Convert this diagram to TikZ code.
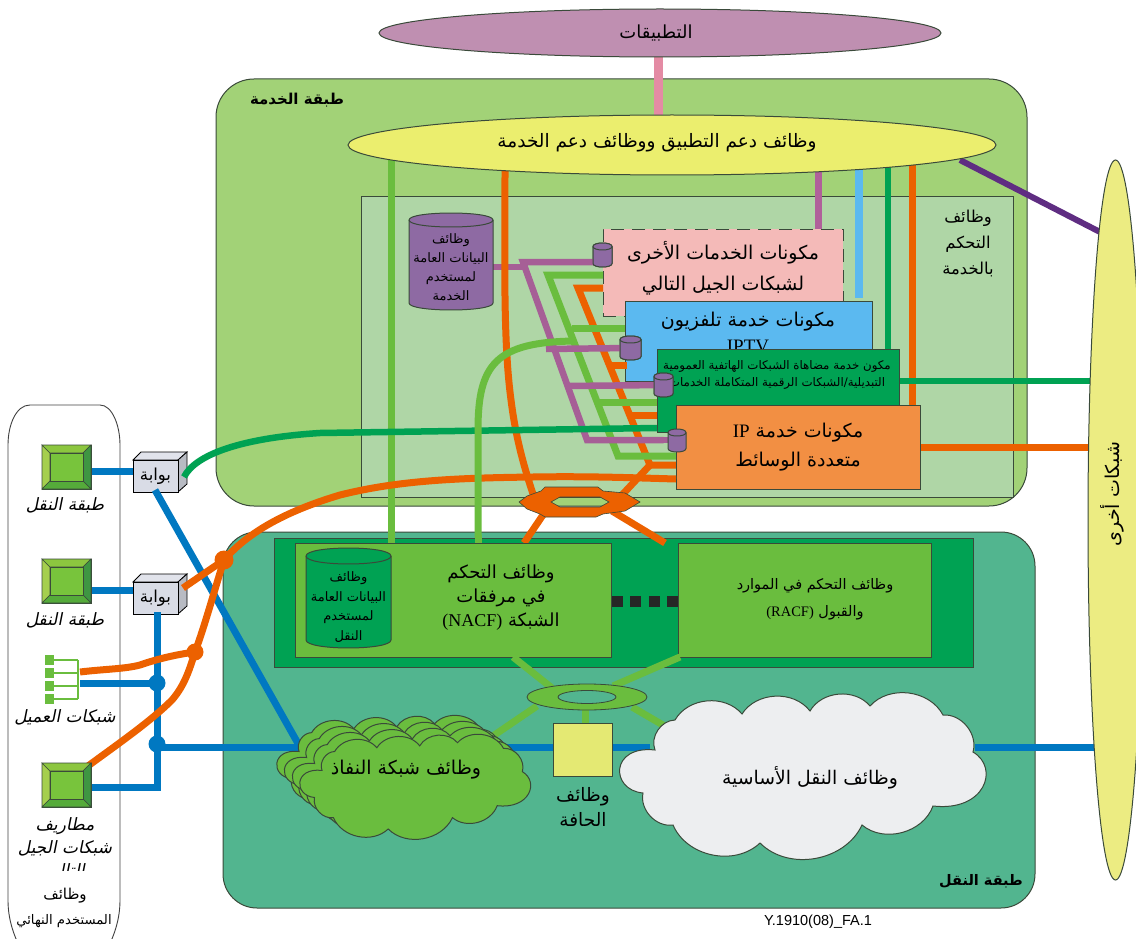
\documentclass[tikz,border=0pt]{standalone}
\usepackage{fontspec}
\usetikzlibrary{shapes.geometric,fit}
\TeXXeTstate=1
\setmainfont{Liberation Serif}
\newfontfamily\arabicfont[Script=Arabic]{DejaVu Sans}
\newfontfamily\arabicslant[Script=Arabic,FakeSlant=0.2]{DejaVu Sans}
\newfontfamily\latinfont{Liberation Serif}
\newfontfamily\codefont{Liberation Sans}
\newcommand\ar[1]{\beginR #1\endR}
\newcommand\lat[1]{\beginL{\latinfont #1}\endL}
\definecolor{appc}{HTML}{BF8FB1}
\definecolor{pinkl}{HTML}{E48BA4}
\definecolor{svc}{HTML}{A2D277}
\definecolor{ctl}{HTML}{AFD6A6}
\definecolor{yel}{HTML}{EBEE6E}
\definecolor{yelb}{HTML}{E4E973}
\definecolor{othr}{HTML}{ECEC82}
\definecolor{trn}{HTML}{52B58F}
\definecolor{dgr}{HTML}{00A253}
\definecolor{lgr}{HTML}{6ABD3E}
\definecolor{org}{HTML}{EC6100}
\definecolor{blu}{HTML}{0078C1}
\definecolor{lbl}{HTML}{5BB9F0}
\definecolor{mau}{HTML}{A65F96}
\definecolor{mauv}{HTML}{B0609A}
\definecolor{pur}{HTML}{8E6AA3}
\definecolor{dpur}{HTML}{5F2D82}
\definecolor{pnk}{HTML}{F4BAB8}
\definecolor{oran}{HTML}{F28F43}
\definecolor{gate}{HTML}{D9DCE6}
\definecolor{cor}{HTML}{EDEEF0}
\definecolor{edgec}{HTML}{3A4A3A}
\definecolor{bevL}{HTML}{A5CF4E}
\definecolor{bevT}{HTML}{8CC63F}
\definecolor{bevR}{HTML}{3E9642}
\definecolor{bevB}{HTML}{55AB3A}
\definecolor{bevC}{HTML}{78C43C}
\tikzset{
  frame/.style={draw=edgec,line width=1pt},
  rbox/.style={frame,inner sep=0pt,align=center},
  lab/.style 2 args={inner sep=0pt,align=center,font=\arabicfont\fontsize{#1}{#2}\selectfont},
  side/.style={inner sep=0pt,align=center,font=\arabicslant\fontsize{17}{23}\selectfont},
  wire/.style={line width=#1,line join=miter},
  lg/.style={wire=7pt,lgr},
  og/.style={wire=7pt,org},
  bl/.style={wire=7pt,blu},
  mv/.style={wire=6.5pt,mau},
  dg/.style={wire=6.5pt,dgr},
  dot/.style={circle,inner sep=0pt,minimum size=#1},
  bevtop/.style={fill=#1,draw=edgec,line width=.6pt},
  puffline/.style={draw=edgec,line width=1pt,fill=#1,bend left=55},
}
\newcommand\termicon[3]{% name, x, y (top-left); 49 x 44
  \node[inner sep=0pt,minimum width=49pt,minimum height=44pt,draw=edgec,line width=.8pt,fill=bevC] (#1) at (#2+24.5,#3+22) {};
  \begin{scope}[shift={(#2,#3)}]
    \path[bevtop=bevL] (0,0)--(8,8)--(8,36)--(0,44)--cycle;
    \path[bevtop=bevT] (0,0)--(49,0)--(41,8)--(8,8)--cycle;
    \path[bevtop=bevR] (49,0)--(49,44)--(41,36)--(41,8)--cycle;
    \path[bevtop=bevB] (0,44)--(8,36)--(41,36)--(49,44)--cycle;
    \path[bevtop=bevC] (8,8) rectangle (41,36);
  \end{scope}}
\newcommand\gateway[3]{% name, x, y (front top-left)
  \begin{scope}[shift={(#2,#3)}]
    \path[fill=gate!80!white,draw=black,line width=.8pt] (0,0)--(8,-8)--(54,-8)--(45,0)--cycle;
    \path[fill=gate!85!black,draw=black,line width=.8pt] (45,0)--(54,-8)--(54,24)--(45,32)--cycle;
  \end{scope}
  \node[fill=gate,draw=black,line width=.8pt,inner sep=0pt,minimum width=45pt,minimum height=32pt,
    font=\arabicfont\fontsize{16.5}{18}\selectfont] (#1) at (#2+22.5,#3+16) {\ar{بوابة}};}
% name, x0, y0, x1, y1, fill, ry
\newcommand\drum[7]{%
  \path[draw=edgec,line width=1pt,fill=#6] (#2,#3+#7) .. controls (#2,#3-0.33*#7) and (#4,#3-0.33*#7) .. (#4,#3+#7)
    -- (#4,#5-#7) .. controls (#4,#5+0.33*#7) and (#2,#5+0.33*#7) .. (#2,#5-#7) -- cycle;
  \path[draw=edgec,line width=1pt] (#2,#3+#7) .. controls (#2,#3+2.33*#7) and (#4,#3+2.33*#7) .. (#4,#3+#7);
  \coordinate (#1) at ({(#2+#4)/2},{(#3+#5)/2});}
% style colour, dx, dy, scale
\newcommand\puffcloud[4]{%
  \path[puffline=#1,shift={(#2,#3)},scale=#4]
    (655,750) to (675,720) to (742,714) to (810,711) to (870,706) to (943,715) to (973,752)
    .. controls (1000,768) and (985,812) .. (933,806)
    to (862,825) to (760,843) to (673,825) to (643,793)
    .. controls (610,790) and (610,745) .. (655,750) -- cycle;}
\begin{document}
\begin{tikzpicture}[x=1pt,y=-1pt]
\useasboundingbox (0,0) rectangle (1136,939);
\begin{scope}
\clip (0,0) rectangle (1136,939);
% user box
\draw[draw=black!75,line width=.9pt] (30,405) -- (100,405) .. controls (112,405) and (120,425) .. (120,445)
  -- (120,900) .. controls (120,920) and (114,935) .. (108,948) -- (20,948) .. controls (14,935) and (8,920) .. (8,900)
  -- (8,445) .. controls (8,425) and (16,405) .. (30,405) -- cycle;
% strata
\node[frame,fill=svc,rounded corners=38pt,inner sep=0pt,fit={(216,79)(1027,506)}] (svcS) {};
\node[frame,fill=trn,rounded corners=34pt,inner sep=0pt,fit={(223,532)(1035,908)}] (trnS) {};
\node[frame,fill=ctl,inner sep=0pt,fit={(361,197)(1013,497)}] (ctlR) {};

\coordinate (sup) at (672,145);
\coordinate (gring) at (587,697);
\coordinate (cA) at (224,560);
\coordinate (cB) at (195,652);

% connectors top
\draw[wire=9pt,pinkl] (658,50) -- (658,120);
\draw[lg] (391,160) -- (391,543);
\draw[wire=8pt,lbl] (859,165) -- (859,298);
\draw[wire=7pt,mauv] (818,170) -- (818,232);
\draw[dg] (888,165) -- (888,352);
\draw[og] (912,165) -- (912,408);
\draw[wire=6pt,dpur] (960,160) -- (1100,232);
% right side
\draw[dg] (899,381) -- (1095,381);
\draw[og] (920,447) -- (1095,447);

% boxes
\node[draw=edgec,dash pattern=on 13pt off 8pt,line width=1pt,fill=pnk,inner sep=0pt,align=center,fit={(603,229)(843,316)}] (pinkB) {};
\node[lab={19}{31}] at (723,268) {\ar{مكونات الخدمات الأخرى}\\\ar{لشبكات الجيل التالي}};

% mauve stub under orange vertical
\draw[mv] (493,267) -- (526,267);
% orange vertical into ring
\draw[og] (505,170) .. controls (505,260) and (503,340) .. (511,400) .. controls (516,440) and (525,470) .. (534,497);
\node[rbox,fill=lbl,fit={(625,301)(872,381)}] (iptv) {};
\node[lab={19}{26}] at (748,332) {\ar{مكونات خدمة تلفزيون}\\\lat{IPTV}};
\node[rbox,fill=dgr,fit={(657,349)(899,432)}] (pstn) {};
\node[lab={11.8}{17}] at (777,375) {\ar{مكون خدمة مضاهاة الشبكات الهاتفية العمومية}\\\ar{التبديلية/الشبكات الرقمية المتكاملة الخدمات}};

% orange bus
\coordinate (oa) at (578,288);
\coordinate (ob) at (650,465);
\draw[og] (603,288) -- (oa) -- (ob) -- (676,465);
\draw[og] (608,365) -- (627,365);
\draw[og] (628,415) -- (657,415);
\draw[og] (ob) -- (622,495);
% green bus
\coordinate (ga) at (548,275);
\coordinate (gb) at (618,456);
\draw[lg] (603,275) -- (ga) -- (gb) -- (676,456);
\draw[lg] (572,328) -- (625,328);
\draw[lg] (600,402) -- (657,402);
% mauve bus
\coordinate (ma) at (523,262);
\coordinate (mb) at (587,440);
\drum{c1}{593}{243}{612}{267}{pur}{3.5}
\drum{c2}{620}{336}{641}{360}{pur}{3.5}
\drum{c3}{654}{373}{673}{397}{pur}{3.5}
\draw[mv] (c1 |- ma) -- (ma) -- (mb) -- (c3 |- mb);
\draw[mv] (546,349) -- (c2);
\draw[mv] (566,386) -- (c3);
\drum{c1b}{593}{243}{612}{267}{pur}{3.5}
\drum{c2b}{620}{336}{641}{360}{pur}{3.5}
\drum{c3b}{654}{373}{673}{397}{pur}{3.5}

% orange box
\node[rbox,fill=oran,fit={(676,405)(920,489)}] (ims) {};
\draw[mv] (650,440) -- (670,440);
\drum{c4}{668}{429}{686}{452}{pur}{3.5}
\node[lab={19}{29}] at (798,447) {\ar{مكونات خدمة \lat{IP}}\\\ar{متعددة الوسائط}};
\draw[og] (cA) .. controls (250,530) and (290,510) .. (340,495) .. controls (400,480) and (460,478) .. (533,477) .. controls (590,476) and (640,478) .. (676,479);
\gateway{gwA}{133}{460}
\gateway{gwB}{133}{582}
\draw[dg] (184,477) .. controls (195,455) and (240,438) .. (320,433) -- (657,428);
\draw[lg] (478,545) -- (478,430) .. controls (478,365) and (495,342) .. (575,341);

% big drum service
\drum{cylS}{409}{213}{493}{310}{pur}{7}
\node[lab={13}{19}] at (451,267) {\ar{وظائف}\\\ar{البيانات العامة}\\\ar{لمستخدم}\\\ar{الخدمة}};

% transport box content
\node[rbox,fill=dgr,fit={(274,538)(973,667)}] (trnC) {};
\draw[lg] (391,535) -- (391,543);
\draw[lg] (478,535) -- (478,543);
\draw[og] (545,512) -- (524,543);
\draw[og] (612,511) -- (665,543);
% ring
\draw[fill=org,draw=edgec,line width=.6pt,even odd rule]
  (519,502)--(527,496)--(541,491)--(545,487)--(598,487)--(603,491)--(625,493)--(640,502)--(625,511)--(603,514)--(596,517)--(545,517)--(540,514)--(527,509)--cycle
  (551,502)--(560,497)--(600,497)--(609,502)--(600,507)--(560,507)--cycle;
\node[rbox,fill=lgr,fit={(295,543)(611,657)}] (nacf) {};
\node[rbox,fill=lgr,fit={(678,543)(931,657)}] (racf) {};
\drum{cylT}{306}{548}{391}{648}{dgr}{8}
\node[lab={13}{19.5}] at (348.5,607) {\ar{وظائف}\\\ar{البيانات العامة}\\\ar{لمستخدم}\\\ar{النقل}};
\node[lab={18}{24}] at (501,598) {\ar{وظائف التحكم}\\\ar{في مرفقات}\\\ar{الشبكة \lat{(NACF)}}};
\node[lab={14.5}{27}] at (815,599) {\ar{وظائف التحكم في الموارد}\\\ar{والقبول \lat{(RACF)}}};
\foreach \x in {612,630,649,667} \fill[black!85] (\x,596) rectangle +(11,11);

% blue lines
\draw[bl] (91,471) -- (133,471);
\draw[bl] (91,590) -- (133,590);
\draw[bl] (80,683) -- (157,683);
\draw[bl] (91,787) -- (157,787) -- (157,612);
\draw[bl] (157,747) -- (300,747);
\draw[bl] (155,490) -- (300,747);
\draw[bl] (500,747) -- (553,747);
\draw[bl] (612,747) -- (650,747);
\draw[bl] (975,747) -- (1095,747);
\node[dot=17pt,fill=blu] (dotA) at (157,683) {};
\node[dot=17pt,fill=blu] (dotB) at (157,744) {};

% orange left
\draw[og] (80,672) .. controls (105,669) and (125,669) .. (140,665) .. controls (160,658) and (180,654) .. (cB);
\draw[og] (88,766) .. controls (115,746) and (150,722) .. (172,700) .. controls (185,685) and (190,668) .. (cB) .. controls (205,625) and (213,595) .. (cA);
\draw[og] (183,588) -- (cA);
\node[dot=17pt,fill=org] (dotC) at (cB) {};
\node[dot=19pt,fill=org] (dotD) at (cA) {};

% green ring links
\draw[lg] (513,657) -- (552,688);
\draw[lg] (613,686) -- (680,657);
\draw[lg] (537,706) -- (490,738);
\draw[lg] (632,707) -- (668,728);
\draw[lg] (585,708) -- (585,723);
\draw[fill=lgr,draw=edgec,line width=.8pt,even odd rule] (gring) ellipse [x radius=60,y radius=13] (gring) ellipse [x radius=29,y radius=6.5];

% clouds
\puffcloud{lgr}{-113.6}{279}{.63}
\puffcloud{lgr}{-106}{285}{.63}
\puffcloud{lgr}{-98}{291}{.63}
\puffcloud{lgr}{-90.6}{297.9}{.63}
\node[lab={19}{24}] (accT) at (406,770) {\ar{وظائف شبكة النفاذ}};
\puffcloud{cor}{0}{0}{1}
\node[lab={18.8}{24}] (coreT) at (810,778) {\ar{وظائف النقل الأساسية}};
\node[frame,fill=yelb,inner sep=0pt,fit={(553,723)(612,776)}] (edgeF) {};
\node[lab={18.5}{25}] at (583,807) {\ar{وظائف}\\\ar{الحافة}};

% ellipses
\node[ellipse,frame,fill=appc,inner sep=0pt,minimum width=562pt,minimum height=48pt] (apps) at (660,33) {};
\node[lab={18}{24}] at (656,33) {\ar{التطبيقات}};
\node[ellipse,frame,fill=yel,inner sep=0pt,minimum width=648pt,minimum height=60pt] (supF) at (sup) {};
\node[lab={18.5}{24}] at (657,143) {\ar{وظائف دعم التطبيق ووظائف دعم الخدمة}};
\node[ellipse,frame,fill=othr,inner sep=0pt,minimum width=55pt,minimum height=720pt] (others) at (1115.5,520) {};
\node[lab={19}{24},rotate=90] at (1112,494) {\ar{شبكات أخرى}};

% labels
\node[inner sep=0pt,font=\arabicfont\bfseries\fontsize{15}{18}\selectfont] at (297,100) {\ar{طبقة الخدمة}};
\node[inner sep=0pt,font=\arabicfont\bfseries\fontsize{14.5}{18}\selectfont] at (981,881) {\ar{طبقة النقل}};
\node[lab={16.4}{26}] at (968,243) {\ar{وظائف}\\\ar{التحكم}\\\ar{بالخدمة}};
\node[inner sep=0pt,font=\codefont\fontsize{14.5}{16}\selectfont] at (818,922) {Y.1910(08)\_FA.1};

% terminals
\termicon{tA}{42}{445}
\termicon{tB}{42}{559}
\termicon{tC}{42}{763}
\node[side] at (65,505) {\ar{طبقة النقل}};
\node[side] at (65,620) {\ar{طبقة النقل}};
\node[side] at (65,717) {\ar{شبكات العميل}};
% customer network icon
\foreach \y in {660,673,686,699} {
  \fill[lgr] (45,\y-5) rectangle +(9,10);
  \draw[lgr,line width=1.6pt] (54,\y) -- (78,\y);
}
\draw[lgr,line width=1.6pt] (78,660) -- (78,699);
\begin{scope}
\clip (0,810) rectangle (130,870);
\node[side] at (65,849) {\ar{مطاريف}\\\ar{شبكات الجيل}\\\ar{التالي}};
\end{scope}
\node[lab={15}{26}] at (65,896) {\ar{وظائف}};
\node[lab={13.2}{26}] at (64,921) {\ar{المستخدم النهائي}};
\end{scope}
\end{tikzpicture}
\end{document}
